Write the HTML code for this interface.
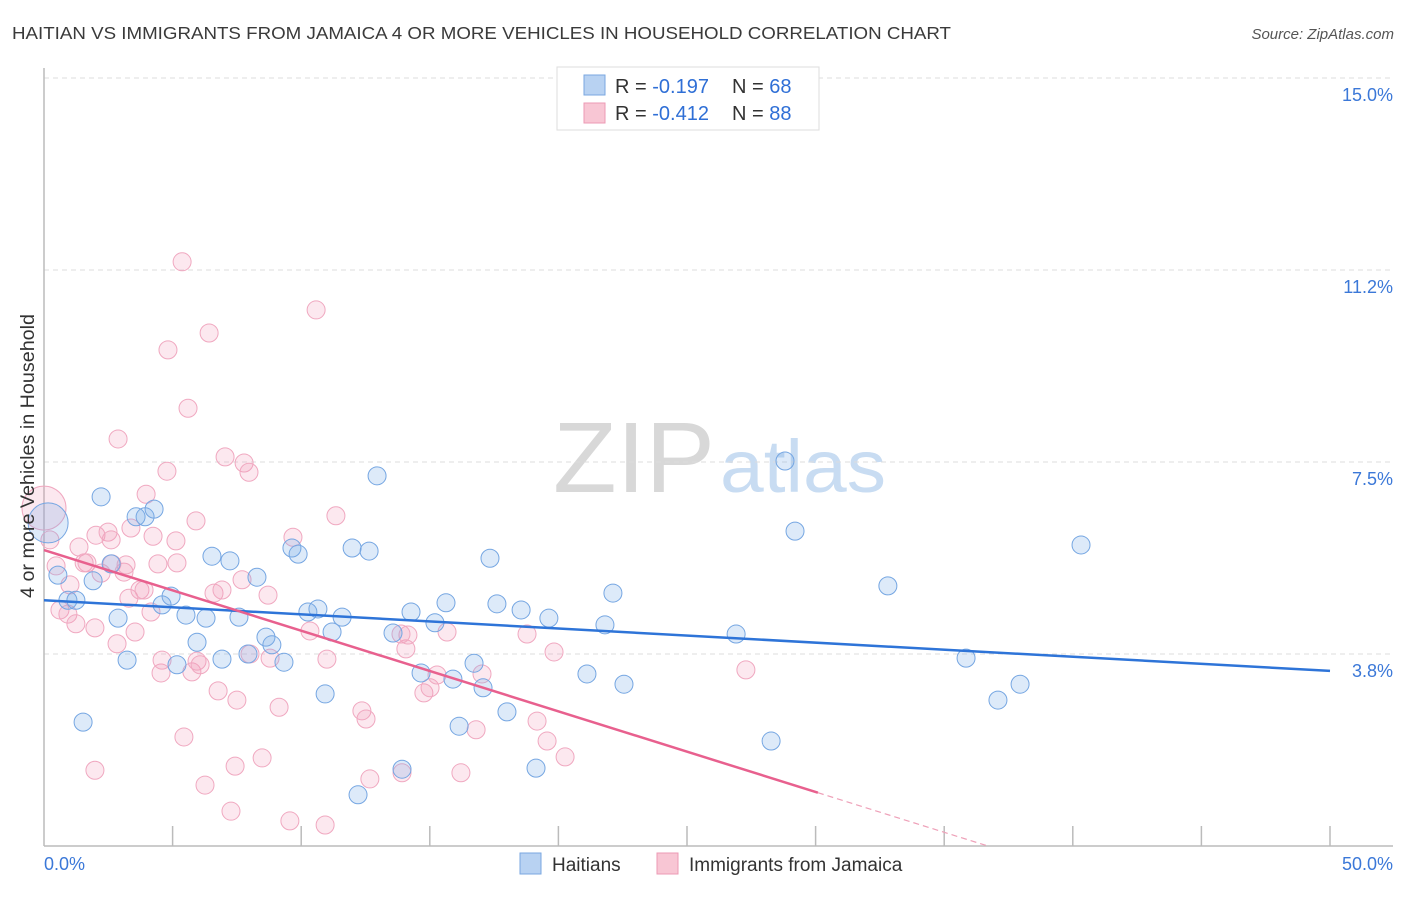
<!DOCTYPE html>
<html><head><meta charset="utf-8"><style>
body{margin:0;background:#fff;font-family:"Liberation Sans",sans-serif;}
svg text{font-family:"Liberation Sans",sans-serif;}
</style></head><body>
<svg id="chart" width="1406" height="892" viewBox="0 0 1406 892" xmlns="http://www.w3.org/2000/svg">
<text x="12" y="39" font-size="17.5" fill="#3a3a3a" textLength="939" lengthAdjust="spacingAndGlyphs">HAITIAN VS IMMIGRANTS FROM JAMAICA 4 OR MORE VEHICLES IN HOUSEHOLD CORRELATION CHART</text>
<text x="1394" y="39" font-size="15" fill="#555" font-style="italic" text-anchor="end">Source: ZipAtlas.com</text>
<g>
<text x="553" y="492" font-size="100" font-family="Liberation Serif,serif" fill="#d8d8d8" textLength="162" lengthAdjust="spacingAndGlyphs">ZIP</text>
<text x="720" y="492" font-size="74" fill="#c8dcf2" textLength="166" lengthAdjust="spacingAndGlyphs">atlas</text>
</g>
<g id="grid"></g>
<g id="axes"></g>
<g id="pts"></g>
<g id="trend"></g>
<g>
<rect x="557" y="67" width="262" height="63" fill="#fff" stroke="#ddd"/>
<rect x="584" y="75" width="21" height="20" fill="#b8d2f2" stroke="#7aa7e0"/>
<rect x="584" y="103" width="21" height="20" fill="#f8c6d4" stroke="#ec9ab4"/>
<text x="615" y="93" font-size="20" fill="#333">R = <tspan fill="#2f6fd6">-0.197</tspan><tspan x="732">N = </tspan><tspan fill="#2f6fd6">68</tspan></text>
<text x="615" y="120" font-size="20" fill="#333">R = <tspan fill="#2f6fd6">-0.412</tspan><tspan x="732">N = </tspan><tspan fill="#2f6fd6">88</tspan></text>
</g>
<g>
<rect x="520" y="853" width="21" height="21" fill="#b8d2f2" stroke="#7aa7e0"/>
<text x="552" y="871" font-size="19" fill="#333">Haitians</text>
<rect x="657" y="853" width="21" height="21" fill="#f8c6d4" stroke="#ec9ab4"/>
<text x="689" y="871" font-size="19" fill="#333">Immigrants from Jamaica</text>
</g>
<text transform="translate(34,456) rotate(-90)" font-size="19" fill="#333" text-anchor="middle" textLength="284" lengthAdjust="spacingAndGlyphs">4 or more Vehicles in Household</text>
</svg>
<script>
const yTicks=[3.75,7.5,11.25,15];
const yTickLabels=["3.8%","7.5%","11.2%","15.0%"];
const xEndLabels=["0.0%","50.0%"];
const blueX=[0.16,0.54,0.93,1.24,1.52,1.91,2.22,2.61,2.88,3.23,3.58,3.93,4.28,4.59,4.94,5.17,5.52,5.95,6.30,6.53,6.92,7.23,7.58,7.93,8.28,8.63,8.86,9.33,9.64,9.88,10.26,10.65,10.93,11.20,11.59,11.98,12.64,12.95,13.57,13.92,14.27,14.66,15.20,15.63,15.90,16.14,16.72,17.07,17.34,17.61,18.00,18.55,19.13,19.63,21.11,22.12,21.81,22.55,26.91,28.27,28.81,29.20,32.81,35.85,37.09,37.95,40.32,12.21];
const blueY=[6.31,5.29,4.80,4.80,2.42,5.18,6.82,5.51,4.45,3.63,6.43,6.43,6.58,4.71,4.88,3.54,4.51,3.98,4.45,5.66,3.65,5.57,4.47,3.75,5.25,4.08,3.93,3.59,5.82,5.70,4.57,4.63,2.97,4.18,4.47,5.82,5.76,7.23,4.16,1.50,4.57,3.38,4.36,4.75,3.26,2.34,3.57,3.09,5.62,4.73,2.62,4.61,1.52,4.45,3.36,4.94,4.32,3.16,4.14,2.05,7.52,6.15,5.08,3.67,2.85,3.16,5.88,1.00];
const pinkX=[0,0.23,0.47,0.62,0.93,1.01,1.24,1.36,1.56,1.67,1.98,2.02,2.22,2.49,2.61,2.64,2.84,2.88,3.11,3.19,3.30,3.38,3.54,3.73,3.89,3.97,4.16,4.24,4.43,4.55,4.59,4.78,4.82,5.13,5.17,5.37,5.44,5.60,5.75,5.91,5.95,6.07,6.26,6.42,6.61,6.77,6.92,7.04,7.27,7.43,7.50,7.70,7.78,7.97,8.01,8.48,8.71,8.79,9.14,9.56,9.68,10.34,10.58,10.93,11.00,11.35,12.36,12.52,12.67,13.92,14.07,14.15,14.77,15.01,15.28,15.67,16.21,16.80,17.03,18.78,19.17,19.56,19.83,20.26,27.29,13.88,1.98];
const pinkY=[6.60,5.98,5.47,4.61,4.53,5.10,4.34,5.84,5.53,5.53,1.48,6.07,5.33,6.13,5.98,5.51,3.95,7.95,5.35,5.49,4.84,6.21,4.18,5.00,5.00,6.87,4.57,6.05,5.51,3.38,3.63,7.32,9.69,5.96,5.53,11.41,2.13,8.55,3.40,6.35,3.61,3.54,1.19,10.02,4.94,3.03,5.00,7.60,0.68,1.56,2.85,5.20,7.48,7.30,3.75,1.72,4.90,3.67,2.71,0.49,6.03,4.20,10.47,0.41,3.65,6.45,2.64,2.48,1.31,1.43,3.85,4.12,2.99,3.09,3.34,4.18,1.43,2.27,3.36,4.14,2.44,2.05,3.79,1.74,3.44,4.14,4.26];
const blueTrend=[4.80,3.42];
const pinkTrend=[5.78,-0.1575];
const pinkSolidEnd=30.09;
const NS="http://www.w3.org/2000/svg";
const X=v=>44+v*25.72;
const Y=v=>846-v*51.2;
function mk(tag,attrs,parent){const e=document.createElementNS(NS,tag);for(const k in attrs)e.setAttribute(k,attrs[k]);parent.appendChild(e);return e;}
const grid=document.getElementById('grid'),axes=document.getElementById('axes'),pts=document.getElementById('pts'),tr=document.getElementById('trend');
yTicks.forEach((t,i)=>{
 const l=mk('line',{x1:44,x2:1393,y1:Y(t),y2:Y(t),stroke:'#ddd','stroke-dasharray':'5,4'},grid);
 
 
 const tx=mk('text',{x:1393,y:Y(t)+23,'font-size':18,fill:'#3b78d8','text-anchor':'end'},grid);
 tx.textContent=yTickLabels[i];
 
 
});
const la=mk('line',{x1:44,x2:44,y1:68,y2:846,stroke:'#bbb','stroke-width':1.5},axes);


const ba=mk('line',{x1:44,x2:1393,y1:846,y2:846,stroke:'#bbb','stroke-width':1.5},axes);


for(let v=5;v<=50;v+=5){
 const t=mk('line',{x1:X(v),x2:X(v),y1:826,y2:846,stroke:'#bbb','stroke-width':1.5},axes);
 
 
}
[[0,'start',44],[50,'end',1393]].forEach((a,i)=>{
 const t=mk('text',{x:a[2],y:870,'font-size':18,fill:'#3b78d8','text-anchor':a[1]},axes);
 t.textContent=xEndLabels[i];
 
 
});
pinkX.forEach((x,i)=>{
 const c=mk('circle',{cx:X(x),cy:Y(pinkY[i]),r:i===0?22:9,fill:'rgba(242,150,180,0.22)',stroke:'#f0a8c0','stroke-width':1},pts);
 
 
});
blueX.forEach((x,i)=>{
 const c=mk('circle',{cx:X(x),cy:Y(blueY[i]),r:i===0?20:9,fill:'rgba(120,170,230,0.25)',stroke:'#75a6e2','stroke-width':1},pts);
 
 
});
const bl=mk('line',{x1:X(0),y1:Y(blueTrend[0]),x2:X(50),y2:Y(blueTrend[1]),stroke:'#2e74d8','stroke-width':2.5},tr);


const pe=pinkTrend[0]+pinkTrend[1]*pinkSolidEnd;
const pl=mk('line',{x1:X(0),y1:Y(pinkTrend[0]),x2:X(pinkSolidEnd),y2:Y(pe),stroke:'#e8608e','stroke-width':2.5},tr);


const zx=-pinkTrend[0]/pinkTrend[1];
const pd=mk('line',{x1:X(pinkSolidEnd),y1:Y(pe),x2:X(zx),y2:Y(0),stroke:'#eea0b8','stroke-width':1.2,'stroke-dasharray':'6,4'},tr);


</script>
</body></html>
